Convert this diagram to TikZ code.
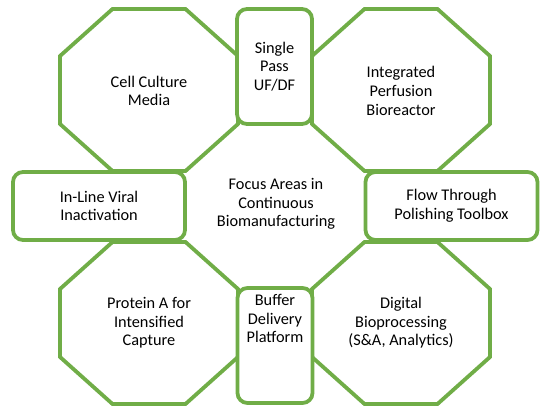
\documentclass[tikz,border=0pt]{standalone}
\usepackage{fontspec}
\setmainfont{Carlito}
\usetikzlibrary{positioning}

\begin{document}
\begin{tikzpicture}[x=1pt, y=-1pt,
    octa/.style={draw=focusgreen, line width=3.8pt, fill=white},
    pill/.style={draw=focusgreen, line width=3.8pt, rounded corners=10pt, fill=white},
    lbl/.style={align=center, inner sep=0pt, font=\fontsize{16.3}{18.6}\selectfont}]
    % Colore dei bordi
    \definecolor{focusgreen}{RGB}{112,173,71}

    % Area del disegno
    \useasboundingbox (0,0) rectangle (550,415);

    % Ottagoni agli angoli
    \foreach \cx/\cy in {149/90, 401/90, 149/323, 401/323}
        \draw[octa, shift={(\cx,\cy)}] (-36.5,-81) -- (36.5,-81) -- (89,-34) -- (89,34)
            -- (36.5,81) -- (-36.5,81) -- (-89,34) -- (-89,-34) -- cycle;

    % Testi degli ottagoni
    \node[lbl] (media) at (149,91) {Cell Culture\\Media};
    \node[lbl] (perfusion) at (401,91) {Integrated\\Perfusion\\Bioreactor};
    \node[lbl] (proteinA) at (149,323) {Protein A for\\Intensified\\Capture};
    \node[lbl] (digital) at (401,323) {Digital\\Bioprocessing\\(S\&A, Analytics)};

    % Riquadri verticali
    \node[pill, lbl, minimum width=75pt, minimum height=115pt] (pass) at (274.5,66.5) {Single\\Pass\\UF/DF};
    \node[pill, minimum width=75pt, minimum height=115pt] (buffer) at (275,345.5) {};
    \node[lbl, below=8pt of buffer.north] (buffertxt) {Buffer\\Delivery\\Platform};

    % Riquadri orizzontali
    \node[pill, lbl, minimum width=172pt, minimum height=68pt] (inline) at (99,206) {In-Line Viral\\Inactivation};
    \node[pill, lbl, minimum width=172pt, minimum height=68pt] (flow) at (451.5,206) {Flow Through\\Polishing Toolbox};

    % Titolo centrale
    \node[lbl] (focus) at (276,204) {Focus Areas in\\Continuous\\Biomanufacturing};
\end{tikzpicture}
\end{document}
